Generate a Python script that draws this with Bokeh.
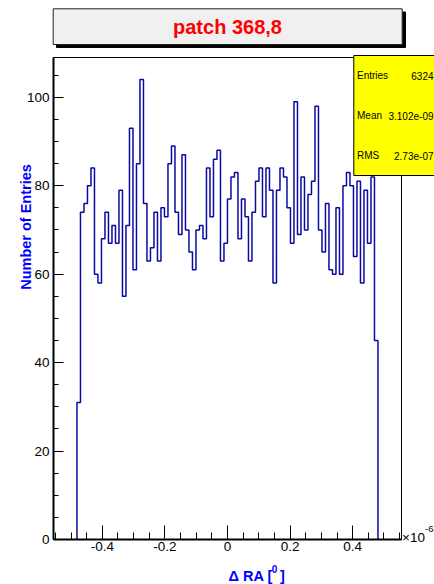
import numpy as np
from bokeh.plotting import figure
from bokeh.models import Range1d, FixedTicker, BoxAnnotation, Label
from bokeh.embed import file_html
from bokeh.resources import INLINE

# ---- data (x in units of 1e-6 degrees) ----
counts = [31, 74, 76, 80, 84, 60, 58, 68, 74, 67, 71, 67, 79, 55, 71, 93, 61, 85, 104, 76,
          63, 66, 74, 63, 75, 73, 85, 89, 74, 69, 87, 70, 65, 61, 70, 71, 68, 84, 73, 86,
          88, 63, 67, 77, 82, 83, 68, 77, 73, 63, 74, 81, 84, 73, 84, 79, 58, 79, 84, 82,
          75, 67, 99, 69, 82, 70, 78, 81, 98, 70, 65, 76, 61, 60, 75, 60, 80, 83, 80, 64,
          81, 58, 79, 67, 82, 45]
first_edge = -0.481
bin_width = 0.011184
x_ticks = [-0.4, -0.2, 0.0, 0.2, 0.4]
x_tick_labels = ["-0.4", "-0.2", "0", "0.2", "0.4"]
y_ticks = [0, 20, 40, 60, 80, 100]
title_text = "patch 368,8"
stats_names = ["Entries", "Mean", "RMS"]
stats_values = ["6324", "3.102e-09", "2.73e-07"]

edges = first_edge + bin_width * np.arange(len(counts) + 1)
xs = [edges[0]] + list(edges[:-1]) + [edges[-1]]
ys = [0] + counts + [0]

# ---- geometry ----
W, H = 434, 584
FRAME_L, FRAME_R, FRAME_T, FRAME_B = 53, 401, 57, 539
XMIN, XMAX = -0.556, 0.556
YMIN, YMAX = 0, 109
sx = (FRAME_R - FRAME_L) / (XMAX - XMIN)
sy = (FRAME_B - FRAME_T) / (YMAX - YMIN)
X0 = XMIN - FRAME_L / sx
X1 = XMAX + (W - FRAME_R) / sx
Y0 = YMIN - (H - FRAME_B) / sy
Y1 = YMAX + FRAME_T / sy

def px2x(px):
    return X0 + px / sx

def py2y(py):
    return Y1 - py / sy

p = figure(width=W, height=H, output_backend="svg", toolbar_location=None, title=None,
           x_range=Range1d(X0, X1), y_range=Range1d(Y0, Y1),
           min_border=0, min_border_left=0, min_border_right=0,
           min_border_top=0, min_border_bottom=0,
           background_fill_color="white", border_fill_color="white")
p.grid.visible = False
p.outline_line_color = None

FONT = "Liberation Sans"

# x axis (fixed at y=0)
xa = p.xaxis[0]
xa.fixed_location = 0
xa.bounds = (XMIN, XMAX)
minor = [round(-0.55 + 0.05 * i, 3) for i in range(23)]
xa.ticker = FixedTicker(ticks=x_ticks, minor_ticks=minor)
xa.major_label_overrides = {t: l for t, l in zip(x_ticks, x_tick_labels)}
xa.major_tick_in = 14
xa.major_tick_out = 0
xa.minor_tick_in = 7
xa.minor_tick_out = 0
xa.axis_line_width = 2
xa.major_label_standoff = 2
xa.major_label_text_font = FONT
xa.major_label_text_font_size = "13.5px"
xa.major_label_text_color = "black"

# y axis (fixed at x=XMIN)
ya = p.yaxis[0]
ya.fixed_location = XMIN
ya.bounds = (YMIN, YMAX)
yminor = [5 * i for i in range(22)]
ya.ticker = FixedTicker(ticks=y_ticks, minor_ticks=yminor)
ya.major_tick_in = 10
ya.major_tick_out = 0
ya.minor_tick_in = 5
ya.minor_tick_out = 0
ya.axis_line_width = 2
ya.major_label_standoff = 4
ya.major_label_text_font = FONT
ya.major_label_text_font_size = "13.5px"
ya.major_label_text_color = "black"

# histogram
p.step(xs, ys, mode="after", line_color="#0a0aa0", line_width=1.5)

# frame outline
p.add_layout(BoxAnnotation(left=XMIN, right=XMAX, bottom=YMIN, top=YMAX,
                           fill_color=None, line_color="black", line_width=1, line_alpha=1))

# title pave with shadow
p.add_layout(BoxAnnotation(left=px2x(56), right=px2x(405), top=py2y(11.5), bottom=py2y(47),
                           fill_color="black", fill_alpha=1, line_color="black", line_alpha=1))
p.add_layout(BoxAnnotation(left=px2x(52.7), right=px2x(401.7), top=py2y(8.3), bottom=py2y(44),
                           fill_color="#f0f0f0", fill_alpha=1, line_color="#222222",
                           line_width=1, line_alpha=1))
p.add_layout(Label(x=px2x(227), y=py2y(26), text=title_text, text_align="center",
                   text_baseline="middle", text_font=FONT, text_font_style="bold",
                   text_font_size="20px", text_color="#ff0000"))

# stats box
p.add_layout(BoxAnnotation(left=px2x(353.3), right=px2x(447), top=py2y(55), bottom=py2y(175),
                           fill_color="#ffff00", fill_alpha=1, line_color="black",
                           line_width=1, line_alpha=1))
for i, (n, v) in enumerate(zip(stats_names, stats_values)):
    yc = py2y(75 + 40 * i)
    p.add_layout(Label(x=px2x(356.5), y=yc, text=n, text_align="left", text_baseline="middle",
                       text_font=FONT, text_font_size="10px", text_color="black"))
    p.add_layout(Label(x=px2x(433), y=yc, text=v, text_align="right", text_baseline="middle",
                       text_font=FONT, text_font_size="10px", text_color="black"))

# axis titles
p.add_layout(Label(x=px2x(25), y=py2y(226.5), text="Number of Entries", angle=np.pi / 2,
                   text_align="center", text_baseline="middle", text_font=FONT,
                   text_font_style="bold", text_font_size="14.5px", text_color="#0000ff"))
p.add_layout(Label(x=px2x(228), y=py2y(575.5), text="\u0394 RA [", text_align="left",
                   text_baseline="middle", text_font=FONT, text_font_style="bold",
                   text_font_size="14.5px", text_color="#0000ff"))
p.add_layout(Label(x=px2x(271.3), y=py2y(568.5), text="0", text_align="left",
                   text_baseline="middle", text_font=FONT, text_font_style="bold",
                   text_font_size="10px", text_color="#0000ff"))
p.add_layout(Label(x=px2x(279.5), y=py2y(575.5), text="]", text_align="left",
                   text_baseline="middle", text_font=FONT, text_font_style="bold",
                   text_font_size="14.5px", text_color="#0000ff"))

# exponent
p.add_layout(Label(x=px2x(401.5), y=py2y(536.5), text="\u00d710", text_align="left",
                   text_baseline="middle", text_font=FONT, text_font_size="13.5px",
                   text_color="black"))
p.add_layout(Label(x=px2x(424.5), y=py2y(528.5), text="-6", text_align="left",
                   text_baseline="middle", text_font=FONT, text_font_size="9.5px",
                   text_color="black"))

open("out.html", "w").write(file_html(p, INLINE))
